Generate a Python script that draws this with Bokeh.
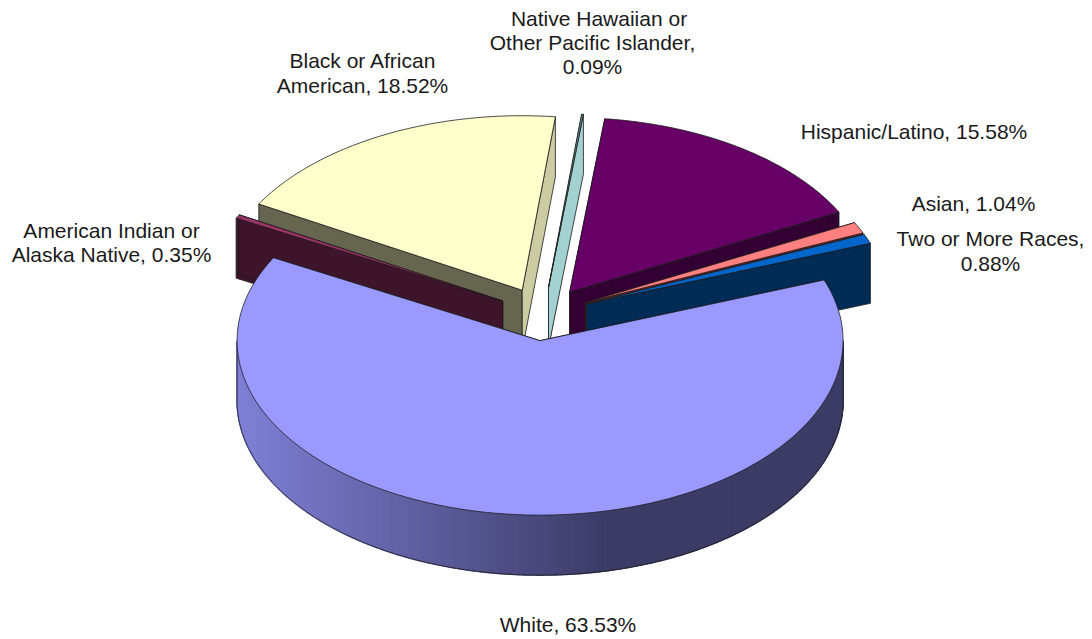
import numpy as np
from bokeh.plotting import figure
from bokeh.models import Range1d, ColumnDataSource
from bokeh.core.properties import value
from bokeh.embed import file_html
from bokeh.resources import INLINE

# Data, clockwise from the first slice
categories = ["Hispanic/Latino", "Asian", "Two or More Races", "White",
              "American Indian or Alaska Native", "Black or African American",
              "Native Hawaiian or Other Pacific Islander"]
percent = [15.58, 1.04, 0.88, 63.53, 0.35, 18.52, 0.09]
top_colors = ["#660066", "#FF8080", "#0066CC", "#9999FF", "#993366", "#FFFFCC", "#6F9C9C"]
wall_colors = ["#330033", "#802020", "#002B55", "#3C3C66", "#3D1429", "#666650", "#A3D1D1"]
light_wall = {"Black or African American": "#CCCCA3"}
label_lines = [
    ("Native Hawaiian or", 598.5, 18), ("Other Pacific Islander,", 592, 42), ("0.09%", 592, 66),
    ("Black or African", 362.5, 60), ("American, 18.52%", 362, 85),
    ("American Indian or", 111, 230), ("Alaska Native, 0.35%", 111, 254),
    ("Hispanic/Latino, 15.58%", 913.5, 131),
    ("Asian, 1.04%", 973, 203),
    ("Two or More Races,", 990, 238), ("0.88%", 990, 263),
    ("White, 63.53%", 567.5, 624),
]

# Projection of the pie
CX, CY, RX, RY, DEPTH, EXPLODE = 542.8, 313.5, 303.0, 174.5, 60.0, 0.153
FIRST_ANGLE = 83.35  # maths degrees at which the first slice starts


def pt(a, ox=0.0, oy=0.0, dz=0.0):
    r = np.radians(a)
    return ox + RX * np.cos(r), oy - RY * np.sin(r) + dz


p = figure(width=1092, height=639, x_range=Range1d(0, 1092), y_range=Range1d(639, 0),
           toolbar_location=None, output_backend="svg", min_border=0,
           outline_line_color=None, background_fill_color="white")
p.axis.visible = False
p.grid.visible = False

spans = []
a = FIRST_ANGLE
for name, pc, tc, wc in zip(categories, percent, top_colors, wall_colors):
    sweep = pc * 3.6
    spans.append(dict(name=name, start=a, end=a - sweep, top=tc, wall=wc))
    a -= sweep

# back to front
draw_order = ["Black or African American", "Native Hawaiian or Other Pacific Islander",
              "Hispanic/Latino", "American Indian or Alaska Native", "Asian",
              "Two or More Races", "White"]
by_name = {s["name"]: s for s in spans}
EDGE = "#1c1c1c"


def poly(xs, ys, fill, line=EDGE, lw=0.8):
    p.patch(list(xs), list(ys), fill_color=fill, line_color=line, line_width=lw)


for name in draw_order:
    s = by_name[name]
    mid = np.radians((s["start"] + s["end"]) / 2)
    ox = CX + EXPLODE * RX * np.cos(mid)
    oy = CY - EXPLODE * RY * np.sin(mid)
    # radial walls
    for ang, col in ((s["start"], s["wall"]), (s["end"], light_wall.get(name, s["wall"]))):
        ex, ey = pt(ang, ox, oy)
        poly([ox, ex, ex, ox], [oy, ey, ey + DEPTH, oy + DEPTH], col)
    # outer curved wall, only where it faces the viewer (white slice)
    if name == "White":
        angs = np.arange(0.0, -180.25, -0.5)
        xs0, ys0 = pt(angs, ox, oy)
        c0 = np.array([128, 128, 214.0])
        c1 = np.array([60, 60, 102.0])
        xl, xr = ox - RX, ox + 70
        sx, sy, cols = [], [], []
        for i in range(len(angs) - 1):
            xm = (xs0[i] + xs0[i + 1]) / 2
            t = min(1.0, max(0.0, (xm - xl) / (xr - xl)))
            c = c0 + (c1 - c0) * t
            sx.append([xs0[i], xs0[i + 1], xs0[i + 1], xs0[i]])
            sy.append([ys0[i], ys0[i + 1], ys0[i + 1] + DEPTH, ys0[i] + DEPTH])
            cols.append("#%02x%02x%02x" % tuple(int(v) for v in c))
        p.patches(sx, sy, fill_color=cols, line_color=cols, line_width=1.5)
        p.line(list(xs0), list(ys0 + DEPTH), line_color=EDGE, line_width=0.8)
        p.line([xs0[0], xs0[0]], [ys0[0], ys0[0] + DEPTH], line_color=EDGE, line_width=0.8)
        p.line([xs0[-1], xs0[-1]], [ys0[-1], ys0[-1] + DEPTH], line_color=EDGE, line_width=0.8)
    # top face
    angs = np.linspace(s["start"], s["end"], max(3, int(abs(s["start"] - s["end"]) * 2)))
    ax, ay = pt(angs, ox, oy)
    poly([ox] + list(ax), [oy] + list(ay), s["top"])

src = ColumnDataSource(dict(x=[l[1] for l in label_lines], y=[l[2] for l in label_lines],
                            t=[l[0] for l in label_lines]))
p.text("x", "y", text="t", source=src, text_font=value("Liberation Sans"), text_font_size="21px",
       text_color="#1a1a1a", text_align="center", text_baseline="middle")

open("out.html", "w").write(file_html(p, INLINE))
